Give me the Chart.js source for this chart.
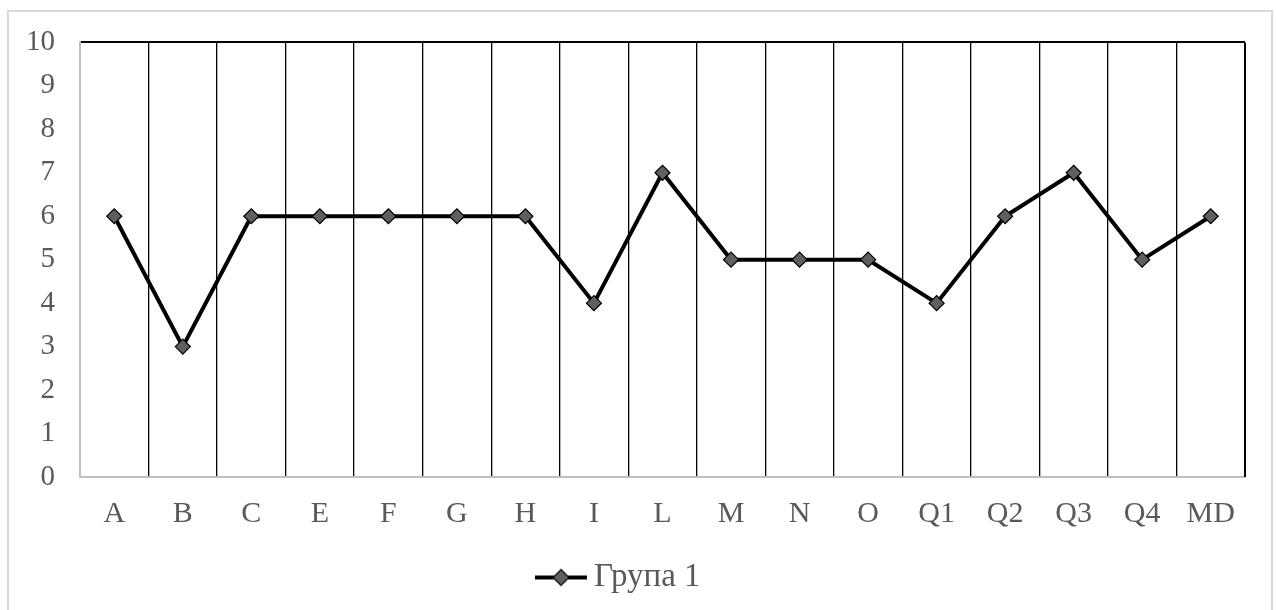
<!DOCTYPE html>
<html>
<head>
<meta charset="utf-8">
<script src="https://cdn.jsdelivr.net/npm/chart.js@4"></script>
<style>
  body { margin: 0; background: #fff; }
  #frame { position: absolute; left: 7px; top: 10px; width: 1266px; height: 602px; border: 2px solid #d9d9d9; box-sizing: border-box; }
  #wrap { position: absolute; left: 0; top: 0; width: 1276px; height: 610px; }
</style>
</head>
<body>
<div id="frame"></div>
<div id="wrap"><canvas id="lineChart"></canvas></div>
<script>
const categories = ["A", "B", "C", "E", "F", "G", "H", "I", "L", "M", "N", "O", "Q1", "Q2", "Q3", "Q4", "MD"];
const group1 = [6, 3, 6, 6, 6, 6, 6, 4, 7, 5, 5, 5, 4, 6, 7, 5, 6];
const seriesName = "Група 1";
const yTicks = [0, 1, 2, 3, 4, 5, 6, 7, 8, 9, 10];

const textColor = "#595959";
const fontFamily = "'Liberation Serif', 'DejaVu Serif', serif";

// legend symbol: line with a diamond in the middle
const legendIcon = document.createElement("canvas");
legendIcon.width = 54;
legendIcon.height = 22;
(function () {
  const c = legendIcon.getContext("2d");
  c.strokeStyle = "#000";
  c.lineWidth = 4;
  c.beginPath();
  c.moveTo(1, 11);
  c.lineTo(53, 11);
  c.stroke();
  c.beginPath();
  c.moveTo(27, 3);
  c.lineTo(35, 11);
  c.lineTo(27, 19);
  c.lineTo(19, 11);
  c.closePath();
  c.fillStyle = "#5f5f5f";
  c.fill();
  c.lineWidth = 1.2;
  c.stroke();
})();

const ctx = document.getElementById("lineChart").getContext("2d");

const chart = new Chart(ctx, {
  type: "line",
  data: {
    labels: categories,
    datasets: [{
      label: seriesName,
      data: group1,
      borderColor: "#000",
      borderWidth: 4,
      tension: 0,
      pointStyle: "rectRot",
      pointRadius: 7.5,
      pointBackgroundColor: "#5f5f5f",
      pointBorderColor: "#000",
      pointBorderWidth: 1.2
    }]
  },
  options: {
    responsive: true,
    maintainAspectRatio: false,
    animation: false,
    layout: { padding: { left: 0, top: 38, right: 31, bottom: 6 } },
    plugins: {
      tooltip: { enabled: false },
      legend: {
        position: "bottom",
        labels: {
          usePointStyle: true,
          color: textColor,
          font: { family: fontFamily, size: 33 },
          padding: 6,
          generateLabels: c => [{
            text: seriesName,
            pointStyle: legendIcon,
            fontColor: textColor,
            datasetIndex: 0
          }]
        }
      }
    },
    scales: {
      x: {
        offset: true,
        grid: {
          offset: true,
          drawTicks: false,
          lineWidth: 1.3,
          color: c => c.index === 0 ? "#bfbfbf" : "#000"
        },
        border: { color: "#bfbfbf", width: 2 },
        ticks: {
          color: textColor,
          font: { family: fontFamily, size: 30 },
          padding: 19,
          maxRotation: 0
        },
        afterFit: s => { s.height = 78; }
      },
      y: {
        min: 0,
        max: 10,
        afterBuildTicks: s => { s.ticks = yTicks.map(v => ({ value: v })); },
        grid: {
          drawTicks: false,
          lineWidth: 2,
          color: c => c.tick && c.tick.value === 10 ? "#000" : "rgba(0,0,0,0)"
        },
        border: { color: "#bfbfbf", width: 2 },
        ticks: {
          color: textColor,
          font: { family: fontFamily, size: 29 },
          padding: 25
        },
        afterFit: s => { s.width = 80; }
      }
    }
  },
  plugins: [{
    id: "rightEdge",
    afterDatasetsDraw(c) {
      // keep the right border black on top
      const a = c.chartArea;
      c.ctx.save();
      c.ctx.strokeStyle = "#000";
      c.ctx.lineWidth = 2;
      c.ctx.beginPath();
      c.ctx.moveTo(a.right, a.top);
      c.ctx.lineTo(a.right, a.bottom);
      c.ctx.stroke();
      c.ctx.restore();
    }
  }]
});
</script>
</body>
</html>
